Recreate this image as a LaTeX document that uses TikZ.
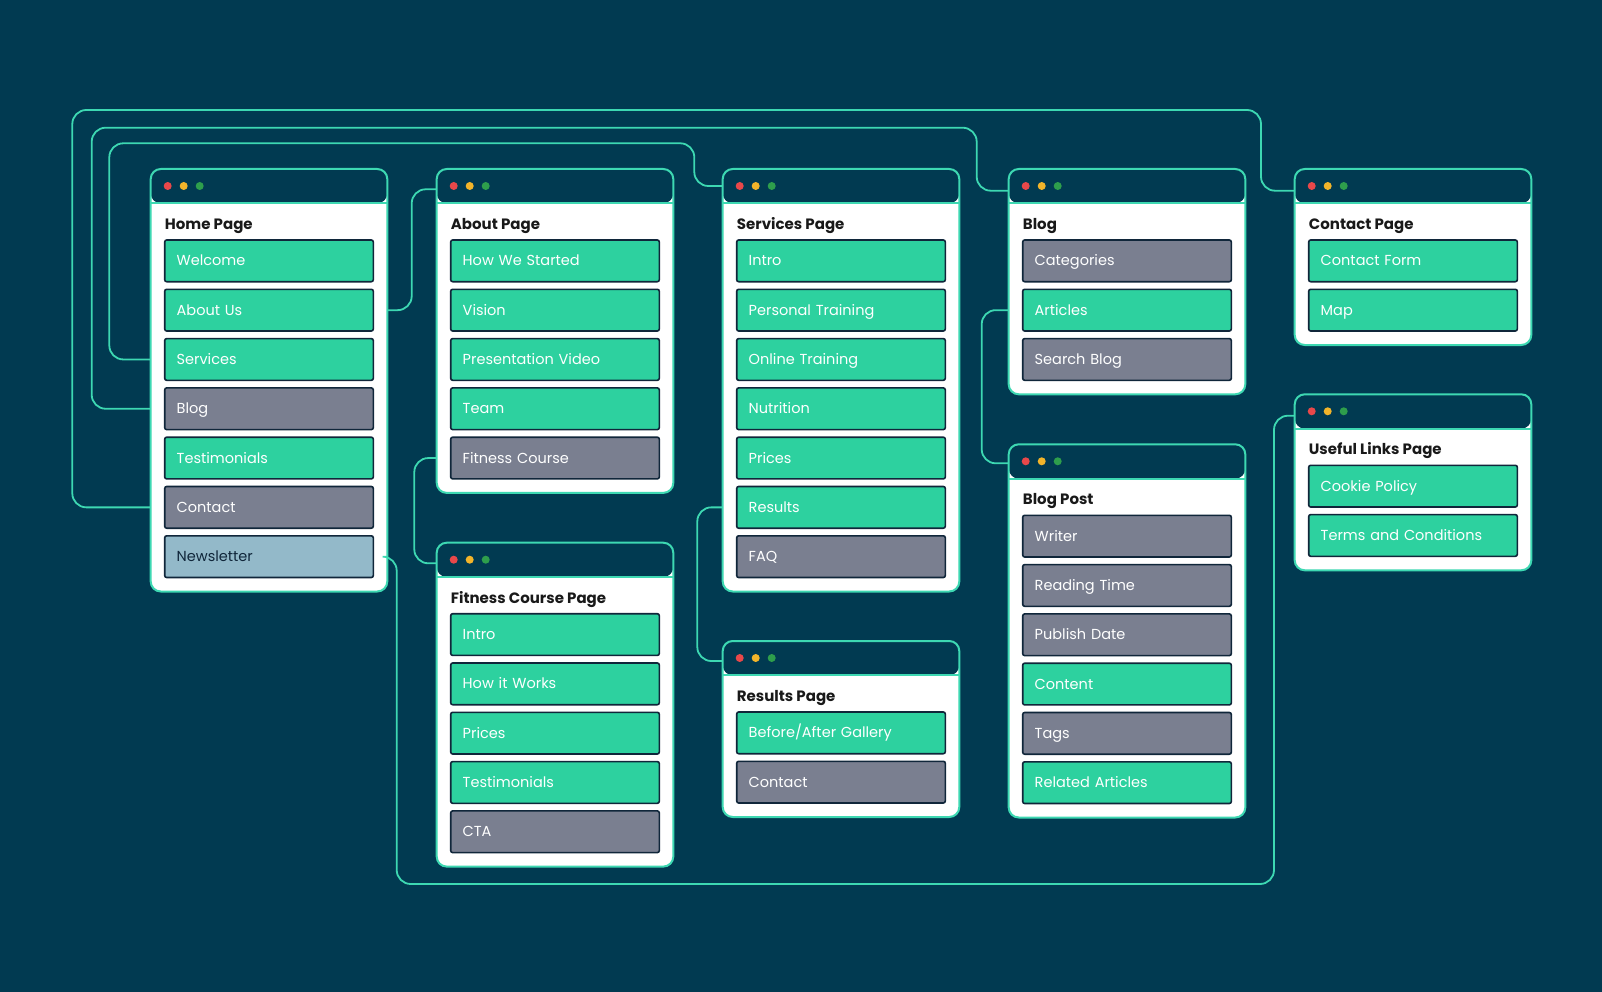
\documentclass[tikz,border=0pt]{standalone}
\usepackage{fontspec}
\setmainfont{Poppins}
\usetikzlibrary{positioning}

\definecolor{bg}{HTML}{013A51}
\definecolor{mint}{HTML}{3DD8B2}
\definecolor{leaf}{HTML}{2DD19F}
\definecolor{slate}{HTML}{7A7F90}
\definecolor{sky}{HTML}{93B9C9}
\definecolor{ink}{HTML}{10263A}
\definecolor{dotred}{HTML}{E8484A}
\definecolor{dotyellow}{HTML}{F2B42A}
\definecolor{dotgreen}{HTML}{2E9E4C}

\begin{document}
\begin{tikzpicture}[
    x=1pt, y=-1pt,
    page/.style={draw=mint, line width=2pt, fill=white, rounded corners=10pt,
      anchor=north west, minimum width=236.6pt, inner sep=0pt, outer sep=0pt,
      path picture={
        \fill[bg] (path picture bounding box.north west) rectangle ([yshift=-34.3pt]path picture bounding box.north east);
        \draw[mint, line width=2pt] ([yshift=-34.3pt]path picture bounding box.north west) -- ([yshift=-34.3pt]path picture bounding box.north east);
        \fill[dotred] ([xshift=17pt,yshift=-17pt]path picture bounding box.north west) circle (4pt);
        \fill[dotyellow] ([xshift=33pt,yshift=-17pt]path picture bounding box.north west) circle (4pt);
        \fill[dotgreen] ([xshift=49pt,yshift=-17pt]path picture bounding box.north west) circle (4pt);
      }},
    page title/.style={anchor=base west, inner sep=0pt, text=black!90, font=\bfseries\fontsize{15}{18}\selectfont},
    item/.style={draw=ink, line width=1.6pt, rounded corners=2pt, anchor=north west,
      minimum height=41.7pt, text width=184.6pt, text height=10.2pt, text depth=0pt,
      inner xsep=12pt, inner ysep=0pt, outer sep=0pt,
      align=left, text=white, font=\fontsize{14.5}{16}\selectfont},
    green item/.style={item, fill=leaf},
    gray item/.style={item, fill=slate},
    light item/.style={item, fill=sky, text=ink},
    link/.style={draw=mint, line width=1.8pt, rounded corners=14pt}]

  \fill[bg] (0,0) rectangle (1602,992);

  % pages
  \node[page, minimum height=422.5pt] (home) at (150.7,169) {};
  \node[page, minimum height=323.9pt] (about) at (436.7,169) {};
  \node[page, minimum height=422.5pt] (services) at (722.7,169) {};
  \node[page, minimum height=225.3pt] (blog) at (1008.7,169) {};
  \node[page, minimum height=176pt] (contact) at (1294.7,169) {};
  \node[page, minimum height=323.9pt] (fitness) at (436.7,542.7) {};
  \node[page, minimum height=176pt] (results) at (722.7,641) {};
  \node[page, minimum height=373.2pt] (blogpost) at (1008.7,444.3) {};
  \node[page, minimum height=176pt] (useful) at (1294.7,394.3) {};

  % home page
  \node[page title] (homeTitle) at ([xshift=14pt,yshift=-60.3pt]home.north west) {Home Page};
  \node[green item] (hWelcome) at ([xshift=14pt,yshift=-71pt]home.north west) {Welcome};
  \node[green item, below=7.6pt of hWelcome] (hAbout) {About Us};
  \node[green item, below=7.6pt of hAbout] (hServices) {Services};
  \node[gray item, below=7.6pt of hServices] (hBlog) {Blog};
  \node[green item, below=7.6pt of hBlog] (hTestimonials) {Testimonials};
  \node[gray item, below=7.6pt of hTestimonials] (hContact) {Contact};
  \node[light item, below=7.6pt of hContact] (hNewsletter) {Newsletter};

  % about page
  \node[page title] (aboutTitle) at ([xshift=14pt,yshift=-60.3pt]about.north west) {About Page};
  \node[green item] (aStarted) at ([xshift=14pt,yshift=-71pt]about.north west) {How We Started};
  \node[green item, below=7.6pt of aStarted] (aVision) {Vision};
  \node[green item, below=7.6pt of aVision] (aVideo) {Presentation Video};
  \node[green item, below=7.6pt of aVideo] (aTeam) {Team};
  \node[gray item, below=7.6pt of aTeam] (aFitness) {Fitness Course};

  % services page
  \node[page title] (servicesTitle) at ([xshift=14pt,yshift=-60.3pt]services.north west) {Services Page};
  \node[green item] (sIntro) at ([xshift=14pt,yshift=-71pt]services.north west) {Intro};
  \node[green item, below=7.6pt of sIntro] (sPersonal) {Personal Training};
  \node[green item, below=7.6pt of sPersonal] (sOnline) {Online Training};
  \node[green item, below=7.6pt of sOnline] (sNutrition) {Nutrition};
  \node[green item, below=7.6pt of sNutrition] (sPrices) {Prices};
  \node[green item, below=7.6pt of sPrices] (sResults) {Results};
  \node[gray item, below=7.6pt of sResults] (sFAQ) {FAQ};

  % blog
  \node[page title] (blogTitle) at ([xshift=14pt,yshift=-60.3pt]blog.north west) {Blog};
  \node[gray item] (bCategories) at ([xshift=14pt,yshift=-71pt]blog.north west) {Categories};
  \node[green item, below=7.6pt of bCategories] (bArticles) {Articles};
  \node[gray item, below=7.6pt of bArticles] (bSearch) {Search Blog};

  % contact page
  \node[page title] (contactTitle) at ([xshift=14pt,yshift=-60.3pt]contact.north west) {Contact Page};
  \node[green item] (cForm) at ([xshift=14pt,yshift=-71pt]contact.north west) {Contact Form};
  \node[green item, below=7.6pt of cForm] (cMap) {Map};

  % fitness course page
  \node[page title] (fitnessTitle) at ([xshift=14pt,yshift=-60.3pt]fitness.north west) {Fitness Course Page};
  \node[green item] (fIntro) at ([xshift=14pt,yshift=-71pt]fitness.north west) {Intro};
  \node[green item, below=7.6pt of fIntro] (fWorks) {How it Works};
  \node[green item, below=7.6pt of fWorks] (fPrices) {Prices};
  \node[green item, below=7.6pt of fPrices] (fTestimonials) {Testimonials};
  \node[gray item, below=7.6pt of fTestimonials] (fCTA) {CTA};

  % results page
  \node[page title] (resultsTitle) at ([xshift=14pt,yshift=-60.3pt]results.north west) {Results Page};
  \node[green item] (rGallery) at ([xshift=14pt,yshift=-71pt]results.north west) {Before/After Gallery};
  \node[gray item, below=7.6pt of rGallery] (rContact) {Contact};

  % blog post
  \node[page title] (blogpostTitle) at ([xshift=14pt,yshift=-60.3pt]blogpost.north west) {Blog Post};
  \node[gray item] (pWriter) at ([xshift=14pt,yshift=-71pt]blogpost.north west) {Writer};
  \node[gray item, below=7.6pt of pWriter] (pReading) {Reading Time};
  \node[gray item, below=7.6pt of pReading] (pPublish) {Publish Date};
  \node[green item, below=7.6pt of pPublish] (pContent) {Content};
  \node[gray item, below=7.6pt of pContent] (pTags) {Tags};
  \node[green item, below=7.6pt of pTags] (pRelated) {Related Articles};

  % useful links page
  \node[page title] (usefulTitle) at ([xshift=14pt,yshift=-60.3pt]useful.north west) {Useful Links Page};
  \node[green item] (uCookie) at ([xshift=14pt,yshift=-71pt]useful.north west) {Cookie Policy};
  \node[green item, below=7.6pt of uCookie] (uTerms) {Terms and Conditions};

  % links between pages
  \draw[link] (hContact.west -| home.west) -| (72.3,110) -| (1261,190.7) -- ([yshift=-21.7pt]contact.north west);
  \draw[link] (hBlog.west -| home.west) -| (91.7,127.7) -| (976.7,190.7) -- ([yshift=-21.7pt]blog.north west);
  \draw[link] (hServices.west -| home.west) -| (109.3,143.3) -| (694.3,186) -- ([yshift=-17pt]services.north west);
  \draw[link] (hAbout.east -| home.east) -| (411.7,189.3) -- ([yshift=-20.3pt]about.north west);
  \draw[link] (aFitness.west -| about.west) -| (414.3,563.3) -- ([yshift=-20.6pt]fitness.north west);
  \draw[link] (hNewsletter.east -| home.east) -| (396.7,884) -| (1274,415.7) -- ([yshift=-21.4pt]useful.north west);
  \draw[link] (sResults.west -| services.west) -| (697.3,661) -- ([yshift=-20pt]results.north west);
  \draw[link] (bArticles.west -| blog.west) -| (981.7,463.3) -- ([yshift=-19pt]blogpost.north west);

\end{tikzpicture}
\end{document}
